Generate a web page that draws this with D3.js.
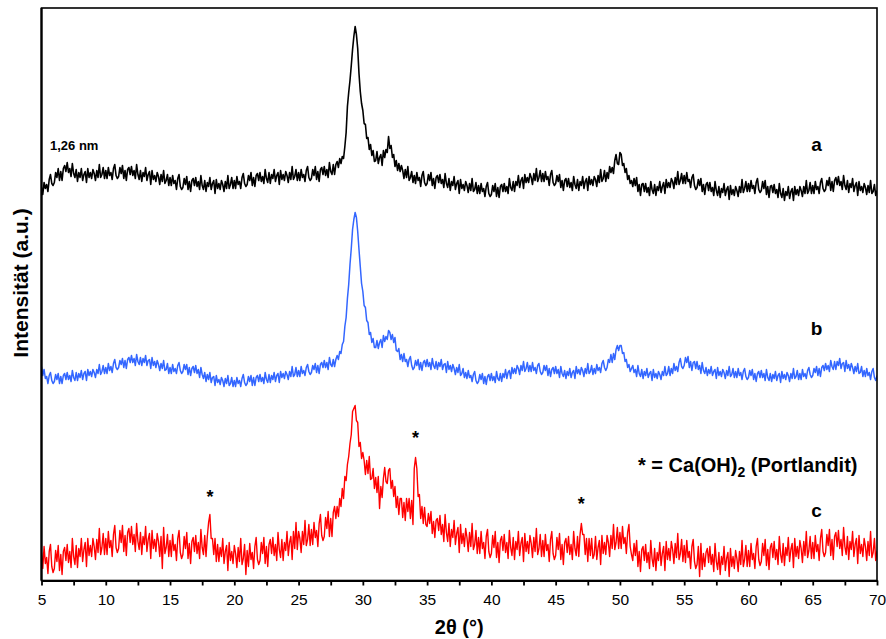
<!DOCTYPE html>
<html><head><meta charset="utf-8">
<script src="https://cdn.jsdelivr.net/npm/d3@7"></script>
<style>
body{margin:0;background:#fff}
svg{display:block}
text{font-family:Arial,"Liberation Sans",sans-serif;fill:#000}
</style>
</head><body>
<svg id="chart" width="886" height="639"></svg>
<script>
// Diffraction scans, one reading every 0.1° from 5° to 70° 2θ (stacked intensities, a.u.)
const scanStart = 5;
const scanStep = 0.1;

// scan a (black), one row per degree
const seriesA = [
393,386,398,392,396,389,401,406,397,395,
398,408,403,412,400,409,400,412,415,409,
418,408,412,404,417,407,403,411,399,408,
403,412,400,406,409,398,412,403,408,402,
411,407,400,410,403,416,403,406,413,402,
410,402,413,405,408,401,412,416,405,402,
404,413,407,415,402,410,400,411,413,406,
414,405,410,402,416,406,401,410,399,408,
404,413,400,406,409,396,410,401,405,399,
408,404,396,406,399,410,397,400,406,395,
403,395,405,397,400,391,402,406,394,391,
393,402,396,404,391,399,389,400,402,395,
403,394,399,391,405,395,391,400,389,398,
394,403,391,397,400,387,401,392,397,391,
400,396,389,399,392,405,392,396,403,392,
400,392,404,396,399,392,403,407,397,394,
396,405,400,408,395,403,394,405,407,400,
408,399,404,397,411,402,398,408,397,406,
402,411,399,405,408,396,410,401,406,400,
409,405,398,408,401,414,401,404,411,400,
408,400,411,403,406,399,410,414,403,400,
402,411,405,414,401,409,399,411,413,406,
414,405,411,403,418,409,406,416,406,416,
419,413,422,417,424,422,434,448,474,488,
500,515,531,544,554,546,532,507,489,477,
470,457,456,442,443,431,436,425,430,419,
420,429,417,423,426,415,430,423,431,428,
444,432,435,423,426,414,420,410,417,409,
415,410,402,411,403,414,400,403,409,398,
405,397,408,400,403,394,405,409,398,395,
397,406,400,408,395,402,392,403,405,398,
406,397,401,393,407,397,393,402,390,399,
395,404,391,397,400,387,401,392,396,390,
399,395,388,397,390,402,389,391,398,387,
395,387,397,389,392,384,394,398,387,384,
386,395,389,397,384,393,383,394,396,389,
397,389,394,387,402,393,390,399,389,399,
395,405,393,400,403,392,406,398,403,398,
407,403,396,407,400,412,399,403,410,399,
407,399,409,401,404,395,406,410,398,395,
397,405,399,406,393,400,390,400,402,394,
402,393,398,390,404,396,392,401,390,399,
395,404,392,399,402,390,404,396,401,395,
404,401,394,405,398,411,399,402,410,399,
408,402,414,408,413,407,420,426,417,416,
428,426,415,417,408,412,401,405,397,400,
394,402,395,403,389,396,385,396,397,389,
397,388,393,385,399,391,387,396,385,394,
390,399,388,394,398,387,401,393,398,393,
402,399,392,403,396,409,396,400,407,397,
405,397,408,399,401,393,403,406,395,391,
393,401,395,402,389,396,386,396,398,390,
398,389,393,385,399,390,385,394,383,392,
388,397,385,391,394,381,395,386,391,385,
394,390,384,394,388,401,388,392,399,389,
397,389,400,392,395,387,398,402,391,388,
390,399,392,400,386,394,383,394,395,388,
396,387,391,383,397,387,383,392,380,389,
385,394,382,389,392,380,394,386,391,385,
394,390,384,394,387,400,387,390,398,387,
395,387,399,391,394,387,398,402,392,389,
391,400,395,403,390,399,389,400,403,396,
404,395,399,391,405,395,391,400,388,397,
393,402,389,395,398,385,399,390,394,388,
397,393,386,395,388,400,387,389,396,385,
390
];

// scan b (blue)
const seriesB = [
214,205,211,202,204,197,205,208,200,197,
199,206,201,207,197,204,197,205,207,201,
208,201,205,199,210,203,200,208,200,207,
203,210,201,207,209,200,211,205,209,204,
211,208,203,211,207,216,206,209,215,207,
213,207,217,210,214,208,217,221,213,211,
213,220,216,222,213,220,212,221,223,218,
225,218,222,215,226,219,216,223,215,222,
218,225,215,220,221,212,223,215,219,213,
220,216,210,217,212,220,210,211,217,207,
213,207,216,209,212,207,215,218,210,207,
209,216,211,216,206,213,205,212,214,208,
215,207,211,203,213,206,202,208,199,206,
201,208,198,203,204,195,205,198,201,196,
203,200,194,202,197,205,195,197,203,194,
200,194,203,197,200,194,202,206,198,195,
197,204,199,205,195,203,195,203,205,199,
206,199,203,197,208,201,198,206,198,205,
201,208,199,205,207,198,209,203,207,202,
209,206,201,209,204,214,204,206,213,204,
210,204,214,207,210,205,213,216,209,206,
208,215,211,217,208,215,207,216,218,213,
220,213,218,211,223,216,214,221,214,221,
225,221,229,227,236,239,254,263,282,296,
316,332,351,361,368,363,349,331,314,297,
289,275,273,260,258,246,248,238,242,233,
233,240,232,238,241,233,245,239,244,241,
250,248,241,246,238,243,230,229,232,221,
226,219,227,219,221,214,221,224,215,211,
213,220,215,221,211,218,210,218,220,214,
221,214,218,211,222,215,212,219,211,218,
214,221,211,216,217,208,219,211,215,209,
216,212,206,213,208,216,205,207,212,203,
208,202,210,203,205,199,206,209,200,197,
199,206,201,207,197,204,196,204,206,200,
207,200,204,198,209,202,200,207,199,207,
203,211,202,208,210,202,213,207,212,207,
215,212,206,215,210,219,209,212,218,209,
215,209,218,210,213,207,215,217,209,206,
208,215,210,215,205,212,204,211,213,207,
214,207,211,203,214,207,204,210,202,209,
205,212,203,208,210,202,214,207,211,206,
213,210,204,212,207,217,207,209,215,206,
212,207,216,210,213,208,217,220,213,210,
213,221,218,226,218,227,221,231,235,230,
235,235,227,228,219,221,213,216,209,212,
215,208,211,204,215,207,204,211,202,209,
205,212,203,207,209,200,211,203,207,202,
209,206,201,209,205,214,205,207,214,205,
212,207,217,210,214,209,218,222,214,212,
215,223,218,224,213,219,210,218,219,212,
219,211,215,207,218,210,207,213,205,211,
207,214,205,209,211,202,213,205,209,204,
211,208,202,210,205,214,204,206,212,203,
209,203,212,205,208,201,209,212,204,201,
203,210,205,211,201,207,199,207,209,203,
210,203,207,200,211,203,200,207,199,206,
202,209,200,205,207,198,209,202,206,201,
208,205,199,207,202,212,202,204,210,201,
207,201,211,204,207,202,210,213,206,203,
205,212,208,214,205,212,204,213,215,210,
217,211,215,209,220,214,211,219,211,219,
215,222,212,217,218,209,220,212,216,210,
217,213,207,214,209,217,207,208,214,204,
210,204,212,205,208,201,209,212,203,200,
205
];

// scan c (red)
const seriesC = [
28,12,34,17,23,7,29,36,14,8,
12,30,19,35,10,26,6,29,33,20,
36,18,29,13,42,24,16,35,13,32,
24,42,19,31,38,14,42,25,35,24,
42,34,21,41,28,52,26,33,47,26,
42,26,49,33,40,24,46,55,33,28,
32,50,38,55,29,45,25,48,52,38,
54,36,46,29,57,39,31,48,26,44,
36,54,29,41,47,22,50,32,41,29,
47,39,24,44,12,53,27,33,46,24,
40,24,46,30,36,20,42,50,28,22,
26,44,32,48,22,37,17,39,43,29,
45,27,38,22,51,33,26,45,24,44,
58,66,42,42,26,42,19,36,19,33,
24,42,17,29,35,10,38,20,29,17,
35,27,13,33,19,42,16,22,36,6,
30,14,37,21,28,12,34,43,21,16,
20,38,27,43,17,34,14,36,41,27,
43,25,36,20,48,31,23,41,20,38,
30,49,25,38,44,21,49,32,58,31,
49,42,28,49,36,60,35,41,56,35,
51,36,58,43,50,34,57,66,45,40,
44,63,52,69,44,62,44,68,74,62,
74,64,82,74,92,82,104,100,116,124,
137,146,169,172,175,160,158,134,138,122,
128,120,106,120,107,124,101,102,112,92,
103,88,104,72,94,83,102,113,99,97,
110,112,92,100,84,94,73,84,66,82,
82,63,78,60,82,69,82,62,80,56,
112,123,112,84,86,62,74,57,73,56,
54,67,57,69,47,59,43,60,62,50,
65,46,56,39,66,48,39,57,34,51,
43,60,36,47,53,28,56,37,47,34,
52,43,29,48,34,57,31,36,50,27,
43,27,49,32,38,22,44,51,29,23,
27,45,33,49,23,38,18,40,44,30,
46,28,38,22,50,33,25,43,21,39,
31,49,25,37,43,19,47,29,39,27,
45,37,23,43,29,52,26,32,46,24,
40,24,46,30,36,19,41,49,27,21,
25,43,31,47,21,36,16,38,42,28,
44,26,36,21,49,32,25,44,24,46,
57,46,46,26,42,19,42,25,42,22,
26,44,21,33,40,16,45,27,38,26,
45,38,24,45,32,56,31,38,53,32,
48,32,54,37,43,27,48,56,34,26,
20,37,25,40,14,29,9,31,34,20,
36,18,28,12,40,22,14,32,10,28,
20,38,15,27,34,10,39,21,32,20,
39,31,17,37,23,47,21,27,41,19,
35,18,40,23,29,12,34,41,19,12,
16,34,4,37,11,27,14,28,32,18,
34,16,26,9,37,19,11,28,6,24,
16,34,10,22,28,4,32,14,24,12,
30,22,9,29,16,40,14,21,35,14,
30,14,37,21,27,12,34,42,21,15,
19,37,25,41,15,31,11,33,37,23,
39,21,31,16,44,26,18,37,15,33,
25,43,19,31,37,13,42,24,34,22,
40,32,18,39,25,49,23,30,44,22,
38,22,45,29,36,20,42,51,29,24,
28,46,35,51,25,41,21,44,48,34,
50,32,41,25,53,34,26,44,21,39,
31,49,24,36,42,17,45,27,36,24,
42,34,20,39,25,49,23,28,42,20,
30
];

const seriesNames = ["a", "b", "c"];
const seriesColors = ["#000000", "#3366ff", "#ff0000"];
const seriesWidths = [1.6, 1.5, 1.4];

// Ca(OH)2 reflections marked in scan c
const portlanditAngles = [18.1, 34.1, 47.0];

const xTickValues = [5,7.5,10,12.5,15,17.5,20,22.5,25,27.5,30,32.5,35,37.5,40,42.5,45,47.5,50,52.5,55,57.5,60,62.5,65,67.5,70];
const xTickLabels = ["5","","10","","15","","20","","25","","30","","35","","40","","45","","50","","55","","60","","65","","70"];

const svg = d3.select("#chart");
const plot = {left: 41.5, right: 877, top: 8, bottom: 580.5};

const x = d3.scaleLinear().domain([5, 70]).range([plot.left, plot.right]);
const y = d3.scaleLinear().domain([0, 572.5]).range([plot.bottom, plot.top]);

svg.append("defs").append("clipPath").attr("id", "plotClip")
  .append("rect")
  .attr("x", plot.left).attr("y", plot.top)
  .attr("width", plot.right - plot.left).attr("height", plot.bottom - plot.top);

const line = d3.line()
  .x((d, i) => x(scanStart + i * scanStep))
  .y(d => y(d));

const traces = svg.append("g").attr("clip-path", "url(#plotClip)");
[seriesA, seriesB, seriesC].forEach((s, k) => {
  traces.append("path")
    .datum(s)
    .attr("d", line)
    .attr("fill", "none")
    .attr("stroke", seriesColors[k])
    .attr("stroke-width", seriesWidths[k])
    .attr("stroke-linejoin", "round");
});

// frame
svg.append("rect")
  .attr("x", plot.left).attr("y", plot.top)
  .attr("width", plot.right - plot.left).attr("height", plot.bottom - plot.top)
  .attr("fill", "none").attr("stroke", "#000").attr("stroke-width", 1.6);
svg.append("line")
  .attr("x1", plot.left).attr("x2", plot.left)
  .attr("y1", plot.top).attr("y2", plot.bottom)
  .attr("stroke", "#000").attr("stroke-width", 2.2);

// bottom axis
const xAxis = d3.axisBottom(x)
  .tickValues(xTickValues)
  .tickFormat((d, i) => xTickLabels[i])
  .tickSize(5)
  .tickSizeOuter(0)
  .tickPadding(8);
const gx = svg.append("g").attr("transform", `translate(0,${plot.bottom})`).call(xAxis);
gx.select(".domain").attr("stroke", "#000").attr("stroke-width", 2.2);
gx.selectAll(".tick line").attr("stroke", "#000").attr("stroke-width", 1.8);
gx.selectAll(".tick text")
  .attr("font-size", 15.5)
  .attr("font-family", "Arial, 'Liberation Sans', sans-serif")
  .attr("fill", "#111");

// axis titles
svg.append("text")
  .attr("x", x(37.5)).attr("y", 634)
  .attr("text-anchor", "middle")
  .attr("font-size", 20).attr("font-weight", "bold")
  .text("2θ (°)");

svg.append("text")
  .attr("transform", `translate(28,283) rotate(-90)`)
  .attr("text-anchor", "middle")
  .attr("font-size", 21).attr("font-weight", "bold")
  .text("Intensität (a.u.)");

// trace labels (baseline height given in intensity units)
const labelBaseline = [429.5, 245.5, 63.5];
seriesNames.forEach((n, k) => {
  svg.append("text")
    .attr("x", x(65.3)).attr("y", y(labelBaseline[k]))
    .attr("text-anchor", "middle")
    .attr("font-size", 19).attr("font-weight", "bold")
    .text(n);
});

svg.append("text")
  .attr("x", 50).attr("y", y(431))
  .attr("font-size", 13).attr("font-weight", "bold")
  .text("1,26 nm");

// Portlandite markers, placed just above each reflection
const markerLift = [22, 24, 24];
portlanditAngles.forEach((a, k) => {
  const i = Math.round((a - scanStart) / scanStep);
  const top = d3.max(seriesC.slice(i - 1, i + 2));
  svg.append("text")
    .attr("x", x(a)).attr("y", y(top + markerLift[k]) + 10)
    .attr("text-anchor", "middle")
    .attr("font-size", 18).attr("font-weight", "bold")
    .text("*");
});

const legend = svg.append("text")
  .attr("x", 638).attr("y", 472)
  .attr("font-size", 20).attr("font-weight", "bold");
legend.append("tspan").text("* = Ca(OH)");
legend.append("tspan").attr("font-size", 14).attr("dy", 5).text("2");
legend.append("tspan").attr("dy", -5).text(" (Portlandit)");
</script>
</body></html>
